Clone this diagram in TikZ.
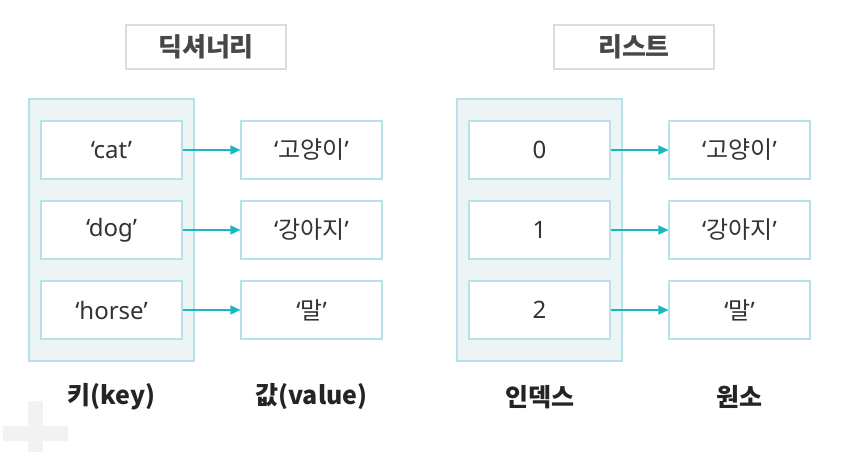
\documentclass[tikz,border=0pt]{standalone}
\usepackage{fontspec}
\setmainfont{Noto Sans}
\newfontfamily\kr{Noto Sans CJK KR}
\usetikzlibrary{arrows.meta}
\definecolor{boxline}{HTML}{B4E2E8}
\definecolor{panel}{HTML}{EDF4F6}
\definecolor{arrowcol}{HTML}{19B7BF}
\definecolor{titleline}{HTML}{DCDCDC}
\definecolor{ink}{HTML}{333333}
\definecolor{plusgray}{HTML}{F2F2F2}
\tikzset{
  cell/.style={draw=boxline, line width=1.2pt, fill=white, minimum width=141pt, minimum height=58pt, text=ink, font=\fontsize{24}{28}\selectfont, inner sep=0pt},
  titlebox/.style={draw=titleline, line width=1.6pt, fill=white, minimum width=160pt, minimum height=44pt, text=ink!90!white, font=\kr\bfseries\fontsize{26}{30}\selectfont, inner sep=0pt},
  caption/.style={text=ink!70!black, font=\kr\bfseries\fontsize{25}{29}\selectfont},
  link/.style={draw=arrowcol, line width=1.6pt, -{Triangle[length=10pt,width=9pt]}}
}
\begin{document}
\begin{tikzpicture}[x=1pt,y=-1pt]
                \useasboundingbox (0,0) rectangle (844,452);
                \fill[plusgray] (28,401) rectangle (43,452);
                \fill[plusgray] (3,426) rectangle (68,441);

                \node[titlebox] (dicttitle) at (206,47) {딕셔너리};
                \node[titlebox] (listtitle) at (634,47) {리스트};

                \filldraw[fill=panel, draw=boxline, line width=1.2pt] (29,99) rectangle (194,361);
                \filldraw[fill=panel, draw=boxline, line width=1.2pt] (457,99) rectangle (622,361);

                \foreach \i/\k/\n/\v in {1/cat/0/고양이, 2/dog/1/강아지, 3/horse/2/말} {
                        \node[cell] (key\i) at (111.5,70+80*\i) {‘\k’};
                        \node[cell] (val\i) at (311.5,70+80*\i) {‘{\kr\v}’};
                        \node[cell] (idx\i) at (539.5,70+80*\i) {\n};
                        \node[cell] (elm\i) at (739.5,70+80*\i) {‘{\kr\v}’};
                        \draw[link] (key\i) -- (val\i);
                        \draw[link] (idx\i) -- (elm\i);
                    }

                \node[caption] (keylabel) at (111.5,397) {키(key)};
                \node[caption] (vallabel) at (311.5,397) {값(value)};
                \node[caption] (idxlabel) at (539.5,397) {인덱스};
                \node[caption] (elmlabel) at (739.5,397) {원소};
            \end{tikzpicture}
\end{document}
